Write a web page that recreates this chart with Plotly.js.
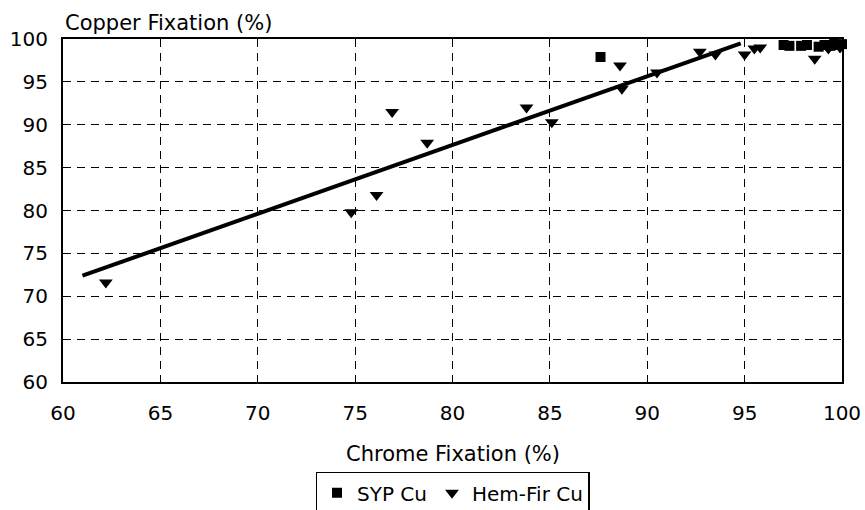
<!DOCTYPE html>
<html><head><meta charset="utf-8">
<script src="https://cdn.plot.ly/plotly-3.0.1.min.js"></script>
<style>html,body{margin:0;padding:0;background:#fff}#chart{width:865px;height:510px}</style>
</head><body><div id="chart"></div>
<script>
// SYP Cu (squares)
const sypX = [87.6, 97.0, 97.3, 97.9, 98.2, 98.8, 99.1, 99.4, 99.6, 99.8, 100.0];
const sypY = [97.9, 99.3, 99.2, 99.2, 99.3, 99.1, 99.3, 99.2, 99.5, 99.3, 99.4];
// Hem-Fir Cu (down triangles)
const hemX = [62.2, 74.8, 76.1, 76.9, 78.7, 83.8, 85.1, 88.6, 88.7, 90.5, 92.7, 93.5, 95.0, 95.5, 95.8, 98.6, 99.3, 99.9];
const hemY = [71.6, 79.8, 81.8, 91.5, 87.9, 92.0, 90.3, 96.9, 94.2, 96.1, 98.5, 98.2, 98.2, 98.9, 99.0, 97.7, 98.9, 99.0];
// linear trend line end points
const trendX = [61.0, 94.8];
const trendY = [72.4, 99.5];
const tickVals = [60, 65, 70, 75, 80, 85, 90, 95, 100];

const font = {family: '"DejaVu Sans", Arial, sans-serif', size: 20, color: '#000'};
const titleFont = Object.assign({}, font, {size: 21});

const traces = [
  {x: trendX, y: trendY, mode: 'lines', line: {color: '#000', width: 4}, showlegend: false, hoverinfo: 'skip', cliponaxis: false},
  {x: sypX, y: sypY, mode: 'markers', name: 'SYP Cu', marker: {symbol: 'square', size: 10, color: '#000'}, cliponaxis: false},
  {x: hemX, y: hemY, mode: 'markers', name: 'Hem-Fir Cu', marker: {symbol: 'triangle-down', size: 12, color: '#000'}, cliponaxis: false}
];

const axisCommon = {
  range: [60, 100], tickvals: tickVals, ticktext: tickVals.map(String),
  showgrid: true, gridcolor: '#000', gridwidth: 1, griddash: '8px,6px',
  zeroline: false, showline: true, mirror: true, linecolor: '#000', linewidth: 2,
  ticks: '', tickfont: font, automargin: false
};

const layout = {
  width: 865, height: 510,
  margin: {l: 63, r: 23, t: 39, b: 128, autoexpand: false},
  paper_bgcolor: '#fff', plot_bgcolor: '#fff',
  font: font,
  xaxis: Object.assign({}, axisCommon, {ticklabelstandoff: 12}),
  yaxis: Object.assign({}, axisCommon, {ticklabelstandoff: 9}),
  showlegend: true,
  legend: {orientation: 'h', x: 0.5, xanchor: 'center', y: -0.262, yanchor: 'top',
           bordercolor: '#000', borderwidth: 1.5, font: font, itemwidth: 30, tracegroupgap: 0},
  annotations: [
    {text: 'Copper Fixation (%)', xref: 'paper', yref: 'paper', x: 0, y: 1, xanchor: 'left', yanchor: 'bottom',
     xshift: 0, yshift: 2, showarrow: false, font: titleFont},
    {text: 'Chrome Fixation (%)', xref: 'paper', yref: 'paper', x: 0.5, y: 0, xanchor: 'center', yanchor: 'middle',
     yshift: -72, showarrow: false, font: titleFont}
  ]
};

Plotly.newPlot('chart', traces, layout, {displayModeBar: false, staticPlot: true});
</script></body></html>
